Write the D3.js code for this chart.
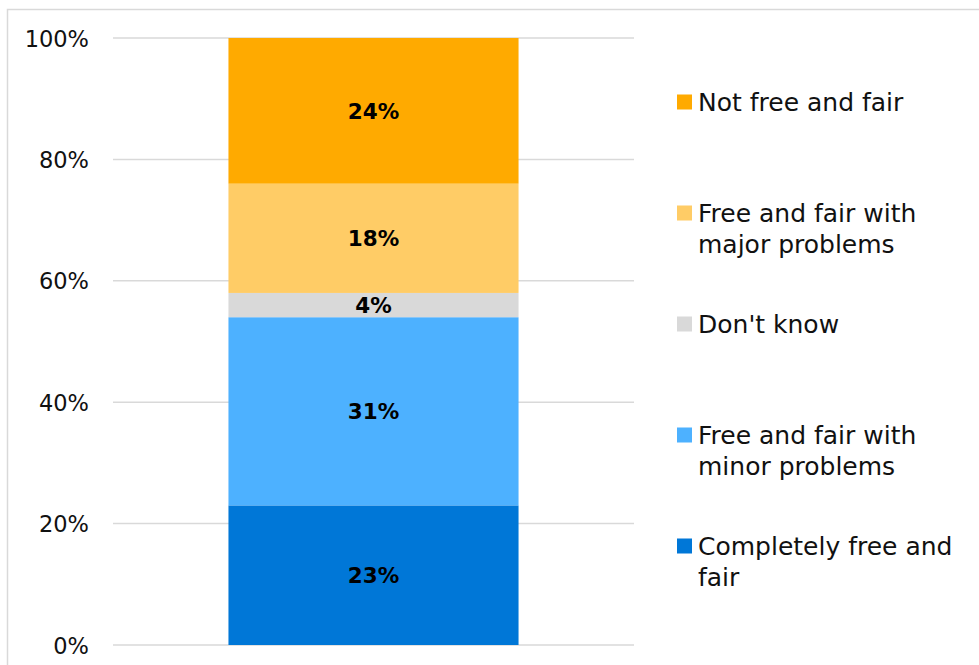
<!DOCTYPE html>
<html>
<head>
<meta charset="utf-8">
<script src="https://cdn.jsdelivr.net/npm/d3@7"></script>
<style>
  html, body { margin: 0; padding: 0; background: #fff; }
  svg { display: block; }
  text { font-family: "DejaVu Sans", sans-serif; }
</style>
</head>
<body>
<svg id="chart" width="979" height="665"></svg>
<script>
// Survey responses: share of each answer, bottom to top of the stacked bar
const categories = [
  "Completely free and fair",
  "Free and fair with minor problems",
  "Don't know",
  "Free and fair with major problems",
  "Not free and fair"
];
const values = [23, 31, 4, 18, 24];
const colors = ["#0077D7", "#4DB1FF", "#D9D9D9", "#FFCC66", "#FFAA00"];
const tickValues = [0, 20, 40, 60, 80, 100];
// Legend labels are wrapped onto two lines where needed
const legendLines = {
  "Not free and fair": ["Not free and fair"],
  "Free and fair with major problems": ["Free and fair with", "major problems"],
  "Don't know": ["Don't know"],
  "Free and fair with minor problems": ["Free and fair with", "minor problems"],
  "Completely free and fair": ["Completely free and", "fair"]
};

const svg = d3.select("#chart");

// chart area outline
svg.append("rect")
  .attr("x", 7.5).attr("y", 9.5)
  .attr("width", 1000).attr("height", 700)
  .attr("fill", "none")
  .attr("stroke", "#D9D9D9")
  .attr("stroke-width", 1.5);

const plot = { left: 113, right: 634, top: 38, bottom: 645 };

const y = d3.scaleLinear().domain([0, 100]).range([plot.bottom, plot.top]);
const x = d3.scaleBand().domain(["all"]).range([plot.left, plot.right])
  .paddingInner(0).paddingOuter(0.398);

// gridlines
svg.append("g")
  .selectAll("line")
  .data(tickValues)
  .join("line")
  .attr("x1", plot.left).attr("x2", plot.right)
  .attr("y1", d => y(d)).attr("y2", d => y(d))
  .attr("stroke", "#D9D9D9")
  .attr("stroke-width", 1.5);

// y axis labels
const yAxis = d3.axisLeft(y)
  .tickValues(tickValues)
  .tickFormat(d => d + "%")
  .tickSize(0)
  .tickPadding(0);
const yg = svg.append("g")
  .attr("transform", `translate(89,0)`)
  .call(yAxis);
yg.select(".domain").remove();
yg.selectAll("text")
  .attr("font-family", "DejaVu Sans, sans-serif")
  .attr("font-size", 22.5)
  .attr("fill", "#111")
  .attr("dy", "0.36em");

// stacked segments
const row = {};
categories.forEach((c, i) => row[c] = values[i]);
const stacked = d3.stack().keys(categories)([row]);
const color = d3.scaleOrdinal().domain(categories).range(colors);

const seg = svg.append("g")
  .selectAll("g")
  .data(stacked)
  .join("g");

seg.append("rect")
  .attr("x", x("all"))
  .attr("width", x.bandwidth())
  .attr("y", d => y(d[0][1]))
  .attr("height", d => y(d[0][0]) - y(d[0][1]))
  .attr("fill", d => color(d.key));

seg.append("text")
  .attr("x", x("all") + x.bandwidth() / 2)
  .attr("y", d => (y(d[0][0]) + y(d[0][1])) / 2)
  .attr("dy", "0.36em")
  .attr("text-anchor", "middle")
  .attr("font-size", 21.5)
  .attr("font-weight", "bold")
  .attr("fill", "#000")
  .text(d => (d[0][1] - d[0][0]) + "%");

// legend, top entry first
const legendOrder = categories.slice().reverse();
const legendY = d3.scalePoint().domain(legendOrder).range([102, 546]);

const lg = svg.append("g")
  .selectAll("g")
  .data(legendOrder)
  .join("g")
  .attr("transform", d => `translate(677,${legendY(d)})`);

lg.append("rect")
  .attr("x", 0).attr("y", -7.5)
  .attr("width", 15).attr("height", 15)
  .attr("fill", d => color(d));

lg.append("text")
  .attr("x", 21)
  .attr("font-size", 25)
  .attr("fill", "#111")
  .selectAll("tspan")
  .data(d => legendLines[d])
  .join("tspan")
  .attr("x", 21)
  .attr("y", (d, i) => i * 31)
  .attr("dy", "0.36em")
  .text(d => d);
</script>
</body>
</html>
